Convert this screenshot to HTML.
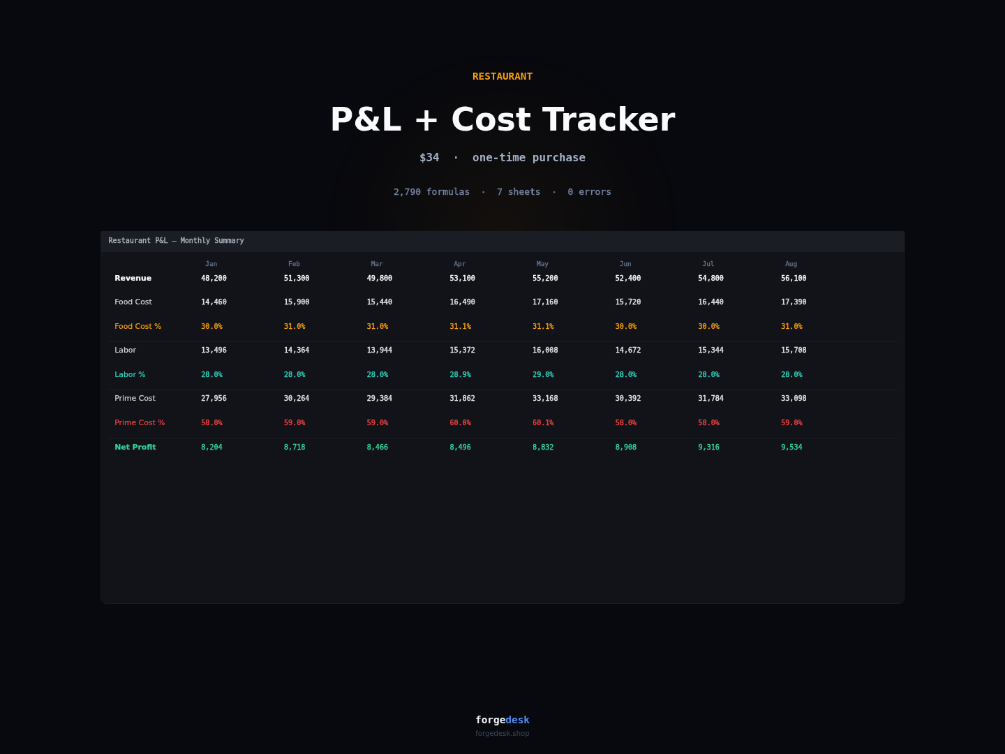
<!DOCTYPE html>
<html lang="en"><head><meta charset="utf-8"><title>P&amp;L + Cost Tracker</title>
<style>
html,body{margin:0;padding:0;background:#08090e;}
body{width:1005px;height:754px;overflow:hidden;position:relative;}
#stage{position:absolute;left:0;top:0;width:1440px;height:1080px;transform-origin:0 0;transform:scale(0.697917,0.698148);overflow:hidden;will-change:transform;
  font-family:"DejaVu Sans","Liberation Sans",sans-serif;}
.glow{position:absolute;left:0;top:0;width:1440px;height:1080px;
  background:radial-gradient(circle 262px at 50% 30.5%, rgba(245,158,11,0.05) 0%, rgba(245,158,11,0.022) 50%, rgba(245,158,11,0) 100%);}
.eyebrow,.price,.stats,.card-head,.m,.c,.brand{font-family:"DejaVu Sans Mono","Liberation Mono",monospace;}
.eyebrow{position:absolute;left:0;width:1440px;text-align:center;top:99.9px;font-size:14.3px;line-height:18px;font-weight:bold;color:#f59e0b;}
.title{position:absolute;left:0;width:1440px;text-align:center;margin:0;top:143px;font-size:46px;line-height:56px;font-weight:bold;color:#f8fafc;}
.price{position:absolute;left:0;width:1440px;text-align:center;top:216px;font-size:15.84px;line-height:20px;font-weight:bold;color:#a3b0c6;}
.stats{position:absolute;left:0;width:1440px;text-align:center;top:266.7px;font-size:12.96px;line-height:16px;color:#7483a0;-webkit-text-stroke:0.4px currentColor;}
.card{position:absolute;left:144px;top:331px;width:1152px;height:534px;background:#121318;border-radius:2.5px 2.5px 8px 8px;overflow:hidden;box-shadow:inset 0 0 0 1px rgba(255,255,255,0.035);}
.card-head{position:absolute;left:0;top:0;width:1152px;height:29.7px;background:#1b1d25;color:#aab3c2;font-size:10.08px;line-height:27.6px;padding-left:11.5px;box-sizing:border-box;-webkit-text-stroke:0.4px currentColor;}
.hrow{position:absolute;left:0;top:41.4px;height:12px;width:1152px;font-size:9.36px;line-height:12px;color:#64748b;-webkit-text-stroke:0.35px currentColor;}
.row{position:absolute;left:0;width:1152px;height:34.55px;line-height:34.55px;font-size:10.08px;color:#e5e7eb;}
.r0{top:50.70px}.r1{top:85.25px}.r2{top:119.80px}.r3{top:154.35px}.r4{top:188.90px}.r5{top:223.45px}.r6{top:258.00px}.r7{top:292.55px}
.ln{position:absolute;left:10.8px;width:1130.9px;height:1px;background:#1d1f27;}
.l0{top:157.8px}.l1{top:227.0px}.l2{top:296.3px}
.lbl{position:absolute;left:20.3px;top:0;font-family:"DejaVu Sans","Liberation Sans",sans-serif;font-size:10.8px;color:#d1d5db;white-space:nowrap;-webkit-text-stroke:0.2px currentColor;}
.m,.c{position:absolute;top:0;white-space:nowrap;}
.c{-webkit-text-stroke:0.4px currentColor;}
.k0{left:144.3px}.k1{left:263.0px}.k2{left:381.7px}.k3{left:500.4px}.k4{left:619.1px}.k5{left:737.8px}.k6{left:856.5px}.k7{left:975.2px}
.m{margin-left:6px;}
.rev .lbl{font-weight:bold;color:#fff;}
.rev .c{color:#fff;}
.or,.or .lbl{color:#f59e0b;}
.tl,.tl .lbl{color:#2dd4bf;}
.rd,.rd .lbl{color:#ef4444;}
.np,.np .lbl{color:#34d399;}
.np .lbl{font-weight:bold;}
.brand{position:absolute;left:0;width:1440px;text-align:center;top:1022px;font-size:14.4px;line-height:18px;font-weight:bold;}
.b1{color:#f1f5f9;}.b2{color:#4f8ff7;}
.url{position:absolute;left:0;width:1440px;text-align:center;top:1043.6px;font-size:10.08px;line-height:14px;color:#3e4860;}
</style></head>
<body>
<div id="stage">
<div class="glow"></div>
<div class="eyebrow">RESTAURANT</div>
<h1 class="title">P&amp;L + Cost Tracker</h1>
<div class="price">$34&nbsp;&nbsp;·&nbsp;&nbsp;one-time purchase</div>
<div class="stats">2,790 formulas&nbsp;&nbsp;·&nbsp;&nbsp;7 sheets&nbsp;&nbsp;·&nbsp;&nbsp;0 errors</div>
<div class="card">
<div class="card-head">Restaurant P&amp;L — Monthly Summary</div>
<div class="hrow"><span class="m k0">Jan</span><span class="m k1">Feb</span><span class="m k2">Mar</span><span class="m k3">Apr</span><span class="m k4">May</span><span class="m k5">Jun</span><span class="m k6">Jul</span><span class="m k7">Aug</span></div>
<div class="row r0 rev"><span class="lbl">Revenue</span><span class="c k0">48,200</span><span class="c k1">51,300</span><span class="c k2">49,800</span><span class="c k3">53,100</span><span class="c k4">55,200</span><span class="c k5">52,400</span><span class="c k6">54,800</span><span class="c k7">56,100</span></div>
<div class="row r1 "><span class="lbl">Food Cost</span><span class="c k0">14,460</span><span class="c k1">15,900</span><span class="c k2">15,440</span><span class="c k3">16,490</span><span class="c k4">17,160</span><span class="c k5">15,720</span><span class="c k6">16,440</span><span class="c k7">17,390</span></div>
<div class="row r2 or"><span class="lbl">Food Cost %</span><span class="c k0">30.0%</span><span class="c k1">31.0%</span><span class="c k2">31.0%</span><span class="c k3">31.1%</span><span class="c k4">31.1%</span><span class="c k5">30.0%</span><span class="c k6">30.0%</span><span class="c k7">31.0%</span></div>
<div class="row r3 "><span class="lbl">Labor</span><span class="c k0">13,496</span><span class="c k1">14,364</span><span class="c k2">13,944</span><span class="c k3">15,372</span><span class="c k4">16,008</span><span class="c k5">14,672</span><span class="c k6">15,344</span><span class="c k7">15,708</span></div>
<div class="row r4 tl"><span class="lbl">Labor %</span><span class="c k0">28.0%</span><span class="c k1">28.0%</span><span class="c k2">28.0%</span><span class="c k3">28.9%</span><span class="c k4">29.0%</span><span class="c k5">28.0%</span><span class="c k6">28.0%</span><span class="c k7">28.0%</span></div>
<div class="row r5 "><span class="lbl">Prime Cost</span><span class="c k0">27,956</span><span class="c k1">30,264</span><span class="c k2">29,384</span><span class="c k3">31,862</span><span class="c k4">33,168</span><span class="c k5">30,392</span><span class="c k6">31,784</span><span class="c k7">33,098</span></div>
<div class="row r6 rd"><span class="lbl">Prime Cost %</span><span class="c k0">58.0%</span><span class="c k1">59.0%</span><span class="c k2">59.0%</span><span class="c k3">60.0%</span><span class="c k4">60.1%</span><span class="c k5">58.0%</span><span class="c k6">58.0%</span><span class="c k7">59.0%</span></div>
<div class="row r7 np"><span class="lbl">Net Profit</span><span class="c k0">8,204</span><span class="c k1">8,718</span><span class="c k2">8,466</span><span class="c k3">8,496</span><span class="c k4">8,832</span><span class="c k5">8,908</span><span class="c k6">9,316</span><span class="c k7">9,534</span></div>
<div class="ln l0"></div><div class="ln l1"></div><div class="ln l2"></div>
</div>
<div class="brand"><span class="b1">forge</span><span class="b2">desk</span></div>
<div class="url">forgedesk.shop</div>
</div>
</body></html>
